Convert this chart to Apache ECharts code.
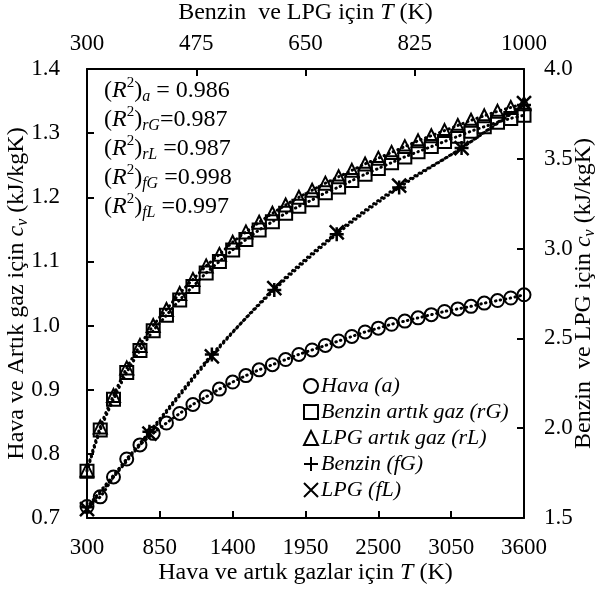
<!DOCTYPE html>
<html>
<head>
<meta charset="utf-8">
<script src="https://cdn.jsdelivr.net/npm/echarts@6/dist/echarts.min.js"></script>
<style>
html, body { margin: 0; padding: 0; background: #fff; }
#main { width: 600px; height: 591px; }
</style>
</head>
<body>
<div id="main"></div>
<script>
// sicakliklar (K)
var T_gaz = [300, 400, 500, 600, 700, 800, 900, 1000, 1100, 1200, 1300, 1400, 1500, 1600, 1700, 1800, 1900,
	2000, 2100, 2200, 2300, 2400, 2500, 2600, 2700, 2800, 2900, 3000, 3100, 3200, 3300, 3400, 3500, 3600];
var T_yakit = [300, 400, 500, 600, 700, 800, 900, 1000];

// cv (kJ/kgK)
var hava = [0.718, 0.733, 0.764, 0.792, 0.814, 0.832, 0.848, 0.863, 0.877, 0.889, 0.901, 0.912, 0.922, 0.931, 0.939, 0.947, 0.955,
	0.962, 0.969, 0.976, 0.983, 0.990, 0.996, 1.002, 1.007, 1.012, 1.017, 1.022, 1.026, 1.030, 1.035, 1.039, 1.043, 1.048];
var benzinArtik = [0.773, 0.837, 0.885, 0.927, 0.961, 0.992, 1.016, 1.040, 1.061, 1.082, 1.100, 1.118, 1.134, 1.149, 1.162, 1.175, 1.186,
	1.196, 1.207, 1.216, 1.226, 1.236, 1.245, 1.254, 1.263, 1.271, 1.279, 1.287, 1.295, 1.303, 1.310, 1.317, 1.323, 1.328];
var lpgArtik = [0.775, 0.842, 0.891, 0.934, 0.969, 1.000, 1.025, 1.050, 1.072, 1.093, 1.111, 1.130, 1.146, 1.161, 1.175, 1.188, 1.200,
	1.211, 1.222, 1.232, 1.242, 1.252, 1.261, 1.270, 1.279, 1.288, 1.296, 1.304, 1.312, 1.320, 1.327, 1.334, 1.340, 1.346];
var benzin = [1.56, 1.98, 2.41, 2.77, 3.08, 3.34, 3.56, 3.80];
var lpg = [1.55, 1.97, 2.40, 2.78, 3.09, 3.35, 3.56, 3.81];

var seriesNames = ['Hava (a)', 'Benzin artık gaz (rG)', 'LPG artık gaz (rL)', 'Benzin (fG)', 'LPG (fL)'];

// eksen etiketleri
var bottomTicks = [300, 850, 1400, 1950, 2500, 3050, 3600];
var topTicks = [300, 475, 650, 825, 1000];
var leftTicks = [0.7, 0.8, 0.9, 1.0, 1.1, 1.2, 1.3, 1.4];
var rightTicks = [1.5, 2.0, 2.5, 3.0, 3.5, 4.0];

// R^2 degerleri
var r2Sub = ['a', 'rG', 'rL', 'fG', 'fL'];
var r2Sep = [' = ', '=', ' =', ' =', ' ='];
var r2Val = ['0.986', '0.987', '0.987', '0.998', '0.997'];

var FONT = 'Liberation Serif';
var plusPath = 'path://M5,0L5,10M0,5L10,5';
var crossPath = 'path://M0,0L10,10M10,0L0,10';

function pairs(xs, ys) {
	var out = [];
	for (var i = 0; i < xs.length; i++) out.push([xs[i], ys[i]]);
	return out;
}

var richName = {
	n: { fontFamily: FONT, fontSize: 24, color: '#000', lineHeight: 28, verticalAlign: 'middle' },
	i: { fontFamily: FONT, fontSize: 24, fontStyle: 'italic', color: '#000', lineHeight: 28, verticalAlign: 'middle' },
	sub: { fontFamily: FONT, fontSize: 16, fontStyle: 'italic', color: '#000', lineHeight: 14, verticalAlign: 'bottom' }
};

var dotLine = { color: '#000', width: 3, type: [0.5, 4.5], cap: 'round' };
var hollow = { color: 'rgba(0,0,0,0)', borderColor: '#000', borderWidth: 2 };

var myChart = echarts.init(document.getElementById('main'), null, { renderer: 'canvas' });

function tickStyle(vals) {
	return { show: true, inside: true, length: 7, lineStyle: { color: '#000', width: 2 }, customValues: vals };
}

function labelStyle(vals, margin, digits) {
	return {
		customValues: vals, margin: margin, fontFamily: FONT, fontSize: 23, color: '#000',
		formatter: function (v) { return digits ? v.toFixed(digits) : String(v); }
	};
}

function axis(extra) {
	var base = {
		type: 'value',
		axisLine: { show: true, onZero: false, lineStyle: { color: '#000', width: 2 } },
		splitLine: { show: false },
		nameLocation: 'middle',
		nameMoveOverlap: false,
		nameTextStyle: { rich: richName }
	};
	return Object.assign(base, extra);
}

var r2Text = [];
for (var k = 0; k < r2Sub.length; k++) {
	r2Text.push('{p|(}{i|R}{sup|2}{p|)}{sub|' + r2Sub[k] + '}{p|' + r2Sep[k] + r2Val[k] + '}');
}

var option = {
	animation: false,
	backgroundColor: '#fff',
	grid: { left: 87, right: 76, top: 69, bottom: 73, containLabel: false, outerBoundsMode: 'none' },
	xAxis: [
		axis({
			position: 'bottom', min: 300, max: 3600,
			axisTick: tickStyle(bottomTicks),
			axisLabel: labelStyle(bottomTicks, 18, 0),
			name: '{n|Hava ve artık gazlar için }{i|T}{n| (K)}',
			nameGap: 41
		}),
		axis({
			position: 'top', min: 300, max: 1000,
			axisTick: tickStyle(topTicks),
			axisLabel: labelStyle(topTicks, 14, 0),
			name: '{n|Benzin  ve LPG için }{i|T}{n| (K)}',
			nameGap: 42
		})
	],
	yAxis: [
		axis({
			position: 'left', min: 0.7, max: 1.4,
			axisTick: tickStyle(leftTicks),
			axisLabel: labelStyle(leftTicks, 27, 1),
			name: '{n|Hava ve Artık gaz için }{i|c}{sub|v}{n| (kJ/kgK)}',
			nameRotate: 90,
			nameGap: 56
		}),
		axis({
			position: 'right', min: 1.5, max: 4.0,
			axisTick: tickStyle(rightTicks),
			axisLabel: labelStyle(rightTicks, 20, 1),
			name: '{n|Benzin  ve LPG için }{i|c}{sub|v}{n| (kJ/kgK)}',
			nameRotate: 90,
			nameGap: 46
		})
	],
	legend: {
		orient: 'vertical',
		left: 298,
		top: 370,
		itemWidth: 14,
		itemHeight: 14,
		itemGap: 4,
		selectedMode: false,
		itemStyle: hollow,
		textStyle: { fontFamily: FONT, fontSize: 22, fontStyle: 'italic', color: '#000', padding: [0, 0, 0, -2] },
		data: [
			{ name: seriesNames[0], icon: 'circle' },
			{ name: seriesNames[1], icon: 'rect' },
			{ name: seriesNames[2], icon: 'triangle' },
			{ name: seriesNames[3], icon: plusPath },
			{ name: seriesNames[4], icon: crossPath }
		]
	},
	graphic: [{
		type: 'text',
		left: 104,
		top: 76,
		style: {
			text: r2Text.join('\n'),
			fill: '#000',
			rich: {
				p: { fontFamily: FONT, fontSize: 24, color: '#000', lineHeight: 29, verticalAlign: 'middle' },
				i: { fontFamily: FONT, fontSize: 24, fontStyle: 'italic', color: '#000', lineHeight: 29, verticalAlign: 'middle' },
				sup: { fontFamily: FONT, fontSize: 15, color: '#000', lineHeight: 16, verticalAlign: 'top' },
				sub: { fontFamily: FONT, fontSize: 16, fontStyle: 'italic', color: '#000', lineHeight: 14, verticalAlign: 'bottom' }
			}
		}
	}],
	series: [
		{
			name: seriesNames[0], type: 'line', xAxisIndex: 0, yAxisIndex: 0,
			data: pairs(T_gaz, hava), smooth: 0.3,
			symbol: 'circle', symbolSize: 13, itemStyle: hollow, lineStyle: dotLine
		},
		{
			name: seriesNames[1], type: 'line', xAxisIndex: 0, yAxisIndex: 0,
			data: pairs(T_gaz, benzinArtik), smooth: 0.3,
			symbol: 'rect', symbolSize: 13, itemStyle: hollow, lineStyle: dotLine
		},
		{
			name: seriesNames[2], type: 'line', xAxisIndex: 0, yAxisIndex: 0,
			data: pairs(T_gaz, lpgArtik), smooth: 0.3,
			symbol: 'triangle', symbolSize: 13, itemStyle: hollow, lineStyle: dotLine
		},
		{
			name: seriesNames[3], type: 'line', xAxisIndex: 1, yAxisIndex: 1,
			data: pairs(T_yakit, benzin), smooth: 0.3,
			symbol: plusPath, symbolSize: 14, itemStyle: { color: 'rgba(0,0,0,0)', borderColor: '#000', borderWidth: 2.5 },
			lineStyle: dotLine
		},
		{
			name: seriesNames[4], type: 'line', xAxisIndex: 1, yAxisIndex: 1,
			data: pairs(T_yakit, lpg), smooth: 0.3,
			symbol: crossPath, symbolSize: 14, itemStyle: { color: 'rgba(0,0,0,0)', borderColor: '#000', borderWidth: 2.5 },
			lineStyle: dotLine
		}
	]
};

myChart.setOption(option);
</script>
</body>
</html>
